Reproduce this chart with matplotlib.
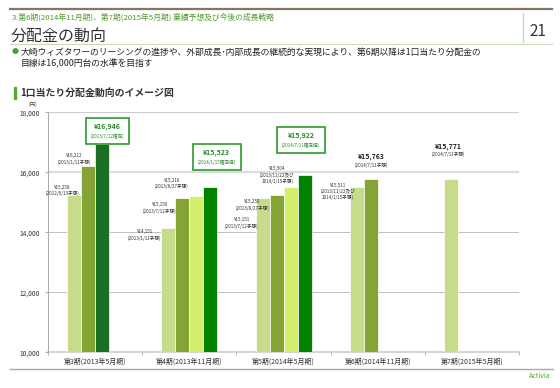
import matplotlib
matplotlib.use('Agg')
import matplotlib.pyplot as plt
from matplotlib.offsetbox import TextArea, VPacker, AnnotationBbox
from matplotlib.lines import Line2D
from matplotlib.patches import Rectangle

plt.rcParams['font.family'] = ['Noto Sans CJK JP', 'DejaVu Sans']

# ---------------- data ----------------
periods = ['第3期(2013年5月期)', '第4期(2013年11月期)', '第5期(2014年5月期)',
           '第6期(2014年11月期)', '第7期(2015年5月期)']
series_a = [15258, 14151, 15151, 15511, 15771]
series_b = [16212, 15150, 15250, 15763, None]
series_c = [16946, 15216, 15504, None, None]
series_d = [None, 15523, 15922, None, None]
notes_a = ['(2012/6/13予想)', '(2013/1/11予想)', '(2013/7/12予想)',
           '(2013/11/22及び\n2014/1/15予想)', '(2014/7/11予想)']
notes_b = ['(2013/1/11予想)', '(2013/7/12予想)', '(2013/8/27予想)', '(2014/7/11予想)', None]
notes_c = ['(2013/7/12確定)', '(2013/8/27予想)', '(2013/11/22及び\n2014/1/15予想)', None, None]
notes_d = [None, '(2014/1/15確定値)', '(2014/7/11確定値)', None, None]
yticks = [10000, 12000, 14000, 16000, 18000]

# ---------------- styles ----------------
slot_colors = ['#c6dc8a', '#86a336', '#d3ef6c', '#008200']
first_actual_color = '#1b6e24'
boxed = {(0, 2), (1, 3), (2, 3)}
bold_black = {(3, 1), (4, 0)}
# label centre offsets from bar top (pixels: right, up)
offsets = {
    (0, 0): (-11.5, 4), (0, 1): (-13.5, 7), (0, 2): (5.5, 13),
    (1, 0): (-23.5, -7.5), (1, 1): (-22.5, -10), (1, 2): (-24.5, 12.5), (1, 3): (6.5, 30),
    (2, 0): (-21, -25.5), (2, 1): (-24, -10), (2, 2): (-13, 12), (2, 3): (-3.5, 35),
    (3, 0): (-18.5, -4.5), (3, 1): (0.5, 19),
    (4, 0): (-2.5, 29.5),
}

W, H = 560, 388
fig = plt.figure(figsize=(W / 100, H / 100), dpi=100)


def fx(px):
    return px / W


def fy(py):
    return 1 - py / H


# ---------------- header ----------------
fig.add_artist(Line2D([fx(10), fx(552)], [fy(9), fy(9)], color='#857565', lw=1.6))
fig.text(fx(12), fy(17), '3.第6期(2014年11月期)、第7期(2015年5月期) 業績予想及び今後の成長戦略',
         fontsize=5.6, color='#4f9a2e', va='center', ha='left')
fig.text(fx(11), fy(36), '分配金の動向', fontsize=11.5, color='#333333', va='center', ha='left')
fig.add_artist(Line2D([fx(523), fx(523)], [fy(13), fy(42)], color='#bcdcae', lw=0.9))
fig.text(fx(538), fy(31), '21', fontsize=11, color='#333333', va='center', ha='center')
fig.add_artist(Line2D([fx(10), fx(552)], [fy(44), fy(44)], color='#c6dcbc', lw=0.8))
fig.text(fx(15), fy(52.5), '●', fontsize=5, color='#4aa02a', va='center', ha='center')
fig.text(fx(21), fy(52.5),
         '大崎ウィズタワーのリーシングの進捗や、外部成長･内部成長の継続的な実現により、第6期以降は1口当たり分配金の',
         fontsize=6.35, color='#222222', va='center', ha='left')
fig.text(fx(21), fy(63.5), '目線は16,000円台の水準を目指す',
         fontsize=6.35, color='#222222', va='center', ha='left')
fig.add_artist(Rectangle((fx(13.5), fy(99)), fx(2.5), fy(87) - fy(99), color='#5aaa2a'))
fig.text(fx(20), fy(93), '1口当たり分配金動向のイメージ図', fontsize=7.1, fontweight='bold',
         color='#333333', va='center', ha='left')
fig.text(fx(33), fy(104.5), '(円)', fontsize=3.8, color='#444444', va='center', ha='center')

# bottom line & logo
fig.add_artist(Line2D([fx(10), fx(553)], [fy(369), fy(369)], color='#b0a898', lw=1.0))
fig.text(fx(540), fy(376.5), 'Activia', fontsize=5, color='#5aaa2a', style='italic',
         va='center', ha='center')

# ---------------- chart ----------------
ax = fig.add_axes([fx(48), fy(352.3), fx(519) - fx(48), fy(112.3) - fy(352.3)])
ax.set_xlim(-0.5, len(periods) - 0.5)
ax.set_ylim(yticks[0], yticks[-1])

grid_style = {12000: ('#b4b4b4', 0.6), 14000: ('#b4b4b4', 0.6),
              16000: ('#dcdcdc', 1.6), 18000: ('#cccccc', 0.8)}
for yv in yticks[1:]:
    c, lw = grid_style[yv]
    ax.axhline(yv, color=c, lw=lw, zorder=0)

bw = 14 / 94.2
all_series = [series_a, series_b, series_c, series_d]
all_notes = [notes_a, notes_b, notes_c, notes_d]
px2pt = 0.72
for k, (vals, notes) in enumerate(zip(all_series, all_notes)):
    for i, v in enumerate(vals):
        if v is None:
            continue
        x = i + (k - 1.5) * bw
        color = slot_colors[k]
        if (i, k) == (0, 2):
            color = first_actual_color
        ax.bar(x, v - yticks[0], bottom=yticks[0], width=bw, color=color,
               edgecolor='white', linewidth=0.5, zorder=2)
        dx, dy = offsets[(i, k)]
        val_txt = '¥{:,}'.format(v)
        if (i, k) in boxed:
            children = [TextArea(val_txt, textprops=dict(fontsize=5, fontweight='bold', color='#2a8a2a')),
                        TextArea(notes[i], textprops=dict(fontsize=3.3, color='#2a8a2a'))]
            pack = VPacker(children=children, align='center', pad=0, sep=2.5)
            ab = AnnotationBbox(pack, (x, v), xybox=(dx * px2pt, dy * px2pt),
                                xycoords='data', boxcoords='offset points',
                                frameon=True, pad=0.35, annotation_clip=False,
                                bboxprops=dict(edgecolor='#2e9a2e', lw=1.2, facecolor='white'))
        elif (i, k) in bold_black:
            children = [TextArea(val_txt, textprops=dict(fontsize=5, fontweight='bold', color='#222222')),
                        TextArea(notes[i], textprops=dict(fontsize=3.3, color='#333333'))]
            pack = VPacker(children=children, align='center', pad=0, sep=1.5)
            ab = AnnotationBbox(pack, (x, v), xybox=(dx * px2pt, dy * px2pt),
                                xycoords='data', boxcoords='offset points',
                                frameon=False, annotation_clip=False)
        else:
            children = [TextArea(val_txt, textprops=dict(fontsize=3.3, color='#333333')),
                        TextArea(notes[i], textprops=dict(fontsize=3.3, color='#333333',
                                                          multialignment='center', linespacing=1.2))]
            pack = VPacker(children=children, align='center', pad=0, sep=0.8)
            ab = AnnotationBbox(pack, (x, v), xybox=(dx * px2pt, dy * px2pt),
                                xycoords='data', boxcoords='offset points',
                                frameon=False, annotation_clip=False)
        ab.set_zorder(3)
        ax.add_artist(ab)

# axes styling
for s in ['top', 'right']:
    ax.spines[s].set_visible(False)
ax.spines['left'].set_color('#a8a8a8')
ax.spines['left'].set_linewidth(0.7)
ax.spines['bottom'].set_color('#d4d4d4')
ax.spines['bottom'].set_linewidth(1.4)
ax.spines['bottom'].set_zorder(1)

ax.set_yticks(yticks)
ax.set_yticklabels(['{:,}'.format(t) for t in yticks], fontsize=4.8, color='#333333')
ax.tick_params(axis='y', length=2.5, width=0.6, color='#a0a0a0', pad=3.5)

ax.set_xticks(range(len(periods)))
ax.set_xticklabels(periods, fontsize=5, color='#333333')
ax.set_xticks([i - 0.5 for i in range(len(periods) + 1)], minor=True)
ax.tick_params(axis='x', which='major', length=0, pad=4)
ax.tick_params(axis='x', which='minor', length=2.5, width=0.6, color='#a8a8a8')

fig.savefig('out.png', dpi=100)
